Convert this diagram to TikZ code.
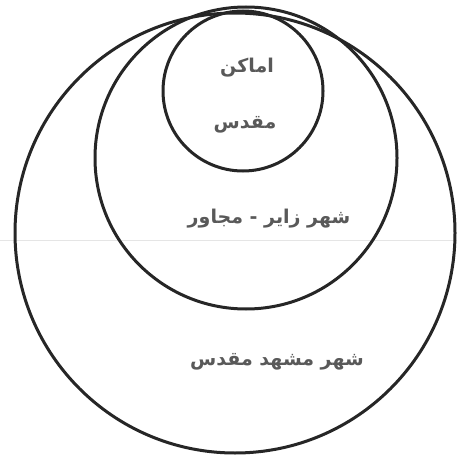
\documentclass[tikz,border=0pt]{standalone}
\usepackage{fontspec}
\TeXXeTstate=1
\newfontfamily\arabicfont[Script=Arabic]{DejaVu Sans}
\tikzset{
  ring/.style={draw=black!85, line width=3pt},
  lbl/.style={font=\arabicfont\bfseries\fontsize{19}{22}\selectfont, text=black!65, inner sep=0pt}
}
\begin{document}
\begin{tikzpicture}[x=1pt,y=-1pt]
\useasboundingbox (0,0) rectangle (457,457);
\fill[white] (0,0) rectangle (457,457);
\draw[black!10, line width=0.8pt] (0,240) -- (457,240);
\node[ring, circle, minimum size=440pt, inner sep=0pt] (outer) at (235,233) {};
\node[ring, circle, minimum size=302pt, inner sep=0pt] (middle) at (246,158) {};
\node[ring, circle, minimum size=160pt, inner sep=0pt] (inner) at (243,91) {};
\node[lbl] (t1) at (247,68) {\beginR اماکن\endR};
\node[lbl] (t2) at (245,125) {\beginR مقدس\endR};
\node[lbl] (t3) at (269,219) {\beginR شهر زایر - مجاور\endR};
\node[lbl] (t4) at (277,362) {\beginR شهر مشهد مقدس\endR};
\end{tikzpicture}
\end{document}
